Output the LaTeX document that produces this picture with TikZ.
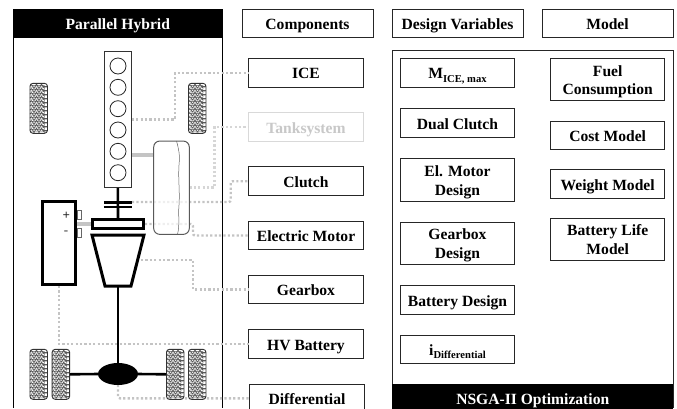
\documentclass[tikz,border=0pt]{standalone}
\usepackage{fontspec}
\setmainfont{Liberation Serif}
\usetikzlibrary{arrows.meta,positioning,calc,shapes.geometric,decorations.pathmorphing}
\definecolor{sig}{HTML}{C4C4C4}
\definecolor{ghost}{HTML}{C8C8C8}
\newcommand{\subtxt}[1]{\raisebox{-3.2pt}{\fontsize{10.6}{12}\selectfont #1}}
\tikzset{
  lab/.style={font=\bfseries\fontsize{15.6}{18.8}\selectfont,align=center,inner sep=0pt,outer sep=0pt,text height=13pt,text depth=1pt},
  box/.style={lab,draw=black!85,line width=1pt,fill=white,minimum width=114.5pt,minimum height=28.5pt},
  hbox/.style={box,minimum width=131pt},
  tbox/.style={box,minimum height=42.5pt,text height=31pt,text depth=.6pt},
  bar/.style={lab,fill=black,text=white,minimum height=29pt},
  sigl/.style={draw=sig,line width=2.4pt,dash pattern=on 2.2pt off 2.2pt},
  heavy/.style={draw=black,line width=3pt},
  shaft/.style={draw=black,line width=2.6pt},
  feed/.style={draw=sig,line width=4pt},
  cyl/.style={circle,draw=black!85,line width=.8pt,minimum size=16pt,inner sep=0pt},
  tyre/.style={rectangle,draw=black!80,fill=white,line width=.9pt,rounded corners=3pt,minimum width=17.5pt,minimum height=50pt,inner sep=0pt,
    path picture={\foreach \k in {1,...,12}{
      \draw[black!65,line width=.5pt,decorate,decoration={snake,amplitude=.9pt,segment length=5pt}]
        ($(path picture bounding box.north west)+(0,\k*4-1)$) -- ++(18,0);}}},
}
\begin{document}
\begin{tikzpicture}[x=1pt,y=-1pt]
\useasboundingbox (0,0) rectangle (677,408);
% vehicle panel
\draw[black,line width=1pt] (13.5,38) -- (13.5,408) (222,38) -- (222,408);
\node[bar,minimum width=209.5pt] (hybrid) at (117.75,23.5) {Parallel Hybrid};
% column heads
\node[hbox] (headcomp) at (307.5,23.5) {Components};
\node[hbox] (headvar) at (457.5,23.5) {Design Variables};
\node[hbox] (headmod) at (607.5,23.5) {Model};
% components
\node[box] (ice) at (306,72.8) {ICE};
\node[box,draw=ghost!70,text=ghost] (tanksys) at (306,127) {Tanksystem};
\node[box] (clutch) at (306,181.2) {Clutch};
\node[box] (emotor) at (306,235.5) {Electric Motor};
\node[box] (gearbox) at (306,289.5) {Gearbox};
\node[box] (hvbat) at (306,344) {HV Battery};
\node[box] (diff) at (307,398.3) {Differential};
% design panel
\draw[black!85,line width=1pt] (392.5,408) -- (392.5,50.5) -- (673,50.5) -- (673,408);
\node[bar,minimum width=281pt,minimum height=28pt] (nsga) at (532.75,398) {NSGA-II Optimization};
\node[box] (mice) at (457.5,72.8) {M\subtxt{ICE, max}};
\node[box] (dual) at (457.5,123) {Dual Clutch};
\node[tbox] (elmot) at (457.5,180) {El. Motor\\Design};
\node[tbox] (gbdes) at (457.5,243.5) {Gearbox\\Design};
\node[box] (batdes) at (457.5,300) {Battery Design};
\node[box] (idiff) at (457.5,349.3) {i\subtxt{Differential}};
\node[tbox] (fuel) at (607.7,79.7) {Fuel\\Consumption};
\node[box] (cost) at (607.7,135.5) {Cost Model};
\node[box] (weight) at (607.7,184) {Weight Model};
\node[tbox] (batlife) at (607.7,239.5) {Battery Life\\Model};
% signal lines
\coordinate (tankout) at (189.3,187.3);
\coordinate (clout) at (132,202);
\coordinate (motout) at (145,224);
\coordinate (gearout) at (141,260);
\draw[sigl] (131.7,119.3) -- ++(43.3,0) |- (ice.west);
\draw[sigl,draw=sig!70] (tankout) -- ++(25.2,0) |- (tanksys.west);
\draw[sigl,rounded corners=2pt] (clout) -- ++(98.7,0) |- (clutch.west);
\draw[sigl,rounded corners=2pt] (motout) -- ++(48,0) |- (emotor.west);
\draw[sigl] (gearout) -- ++(52,0) |- (gearbox.west);
\draw[sigl] (58.7,286) |- (hvbat.west);
\draw[sigl,rounded corners=2pt] (118,385) |- (diff.west);
% engine
\node[rectangle,draw=black!80,fill=white,line width=.9pt,minimum width=27.7pt,minimum height=135.6pt,inner sep=0pt] (engine) at (117.85,119.5) {};
\foreach \i/\yy in {1/66,2/87.3,3/108.7,4/130,5/151.3,6/172.7}{
 \node[cyl] (cyl\i) at (118,\yy) {};
}
% drivetrain
\node[rectangle,draw=black,line width=3pt,minimum width=51.5pt,minimum height=9pt,inner sep=0pt] (motor) at (118,224.2) {};
\node[rectangle,inner sep=0pt,minimum width=28pt,minimum height=0pt] (plate1) at (118,202.3) {};
\node[rectangle,inner sep=0pt,minimum width=28pt,minimum height=0pt] (plate2) at (118,207) {};
\draw[shaft] (engine.south) -- (motor.north);
\draw[line width=2.6pt] (plate1.west) -- (plate1.east) (plate2.west) -- (plate2.east);
\draw[heavy,line join=miter] (92,235) -- (144,235) -- (131,286) -- (105,286) -- cycle;
\coordinate (gearbottom) at (118,286);
\node[ellipse,fill=black,minimum width=40pt,minimum height=22pt,inner sep=0pt] (diffcase) at (118,374) {};
\draw[shaft] (gearbottom) -- (diffcase.north);
% tyres
\node[tyre] (fl) at (38.7,108.3) {};
\node[tyre] (fr) at (197.2,108.3) {};
\node[tyre] (rl1) at (38.7,374.3) {};
\node[tyre] (rl2) at (60.9,374.3) {};
\node[tyre] (rr1) at (175.2,374.3) {};
\node[tyre] (rr2) at (197.2,374.3) {};
\draw[shaft] (rl2.east) -- (diffcase.west);
\draw[shaft] (diffcase.east) -- (rr1.west);
% battery
\node[rectangle,draw=black,fill=white,line width=3pt,minimum width=33pt,minimum height=83pt,inner sep=0pt] (battery) at (58.8,243.2) {};
\node[rectangle,draw=black!60,fill=white,line width=.7pt,minimum width=4pt,minimum height=8.5pt,inner sep=0pt,anchor=west] (termp) at (76.7,214.8) {};
\node[rectangle,draw=black!60,fill=white,line width=.7pt,minimum width=4pt,minimum height=8.5pt,inner sep=0pt,anchor=west] (termm) at (76.7,232.8) {};
\node[font=\bfseries\fontsize{13}{13}\selectfont,text=black!85,inner sep=0pt] (plus) at (66.3,215.5) {+};
\node[font=\bfseries\fontsize{13}{13}\selectfont,text=black!70,inner sep=0pt] (minus) at (66,232.5) {-};
\draw[feed] (battery.east|-motor.west) -- (motor.west);
% tank
\node[rectangle,draw=black!65,fill=white,fill opacity=.72,line width=1pt,rounded corners=6pt,minimum width=35.6pt,minimum height=93.3pt,inner sep=0pt] (tank) at (171.5,187.7) {};
\draw[black!60,line width=.5pt] (176.5,141) .. controls (179,150) and (180,155) .. (179,165) .. controls (178,180) and (180,190) .. (179,205) .. controls (178,215) and (180,225) .. (177.5,234.3);
\draw[feed] (engine.east|-0,154.7) -- (tank.west|-0,154.7);
\end{tikzpicture}
\end{document}
